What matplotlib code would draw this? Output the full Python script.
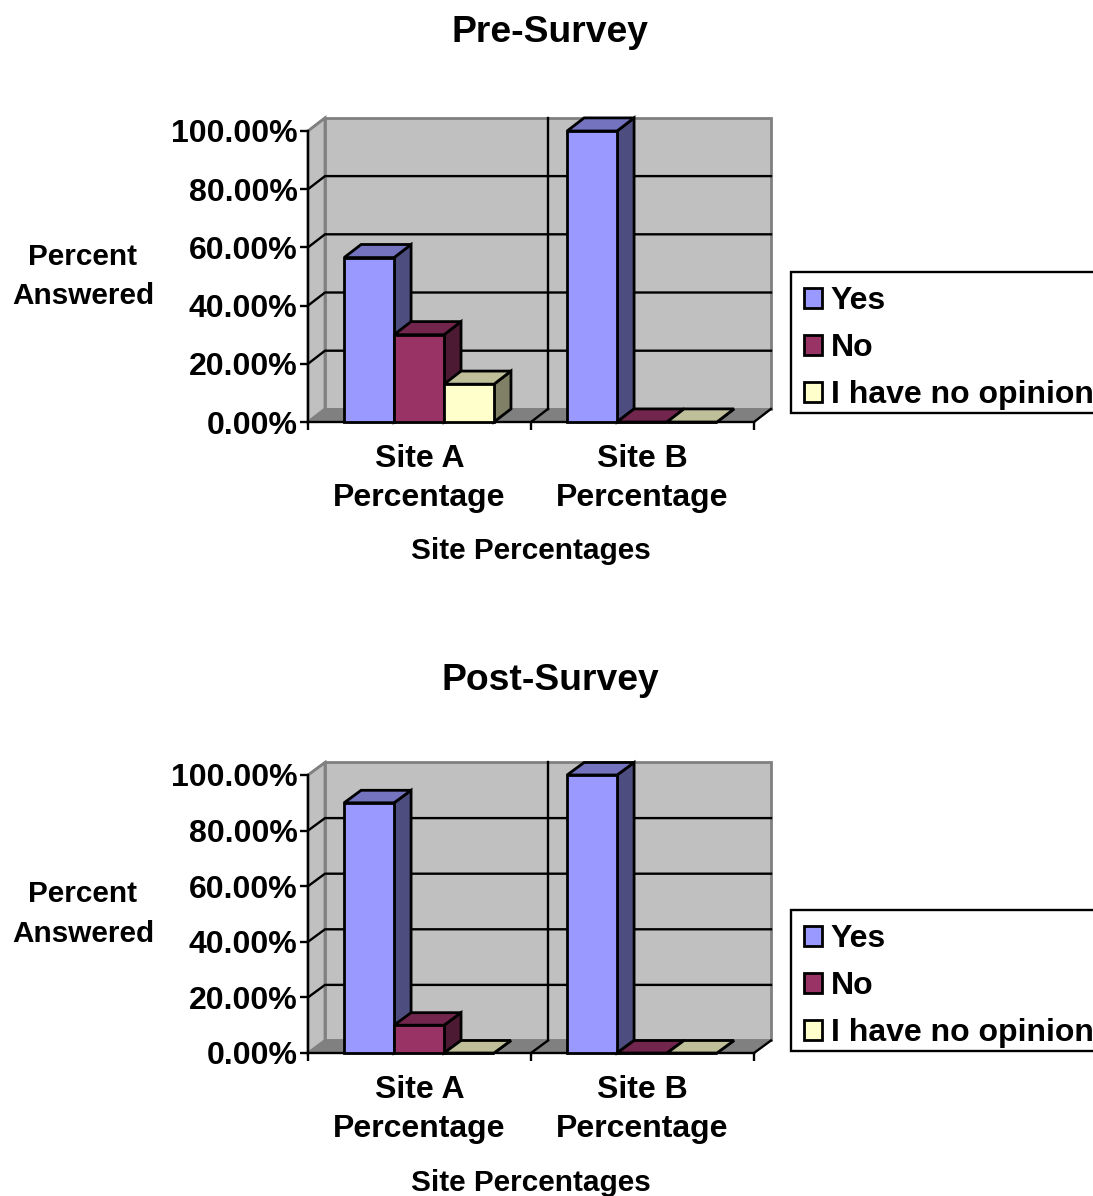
import matplotlib
matplotlib.use("Agg")
import matplotlib.pyplot as plt
from matplotlib.patches import Patch, Polygon, Rectangle

plt.rcParams['font.family'] = ['Liberation Sans', 'DejaVu Sans']
plt.rcParams['font.weight'] = 'bold'

# survey answers, percent
sites = ["Site A\nPercentage", "Site B\nPercentage"]
answers = ["Yes", "No", "I have no opinion"]
pre_yes = [56.5, 100]
pre_no = [30, 0]
pre_none = [13, 0]
post_yes = [90, 100]
post_no = [10, 0]
post_none = [0, 0]
y_ticks = [0, 20, 40, 60, 80, 100]

front_colors = ["#9999FF", "#993366", "#FFFFCC"]
top_colors = ["#7373BF", "#73264D", "#BFBF99"]
side_colors = ["#4D4D80", "#4D1A33", "#808066"]

W, H = 1093, 1196
# depth of the fake 3d box, in data units
DX = 0.0762
DY = 4.5
BAR_W = 0.224
BAR_START = 0.162

fig = plt.figure(figsize=(W / 100, H / 100), dpi=100)


def poly(ax, pts, fc, ec, lw, z):
    ax.add_patch(Polygon(pts, closed=True, facecolor=fc, edgecolor=ec, linewidth=lw,
                         joinstyle='miter', clip_on=False, zorder=z))


def draw_box(ax):
    # side wall, back wall, floor
    poly(ax, [(0, 0), (DX, DY), (DX, 100 + DY), (0, 100)], "#C0C0C0", "#808080", 2.0, 1)
    poly(ax, [(DX, DY), (2 + DX, DY), (2 + DX, 100 + DY), (DX, 100 + DY)], "#C0C0C0", "#808080", 2.0, 1)
    poly(ax, [(0, 0), (2, 0), (2 + DX, DY), (DX, DY)], "#808080", "#808080", 1.0, 1)
    for v in y_ticks[1:-1]:
        ax.plot([0, DX, 2 + DX], [v, v + DY, v + DY], color="black", lw=1.7, zorder=1.5, clip_on=False)
    ax.plot([0, DX], [100, 100 + DY], color="#808080", lw=1.7, zorder=1.5, clip_on=False)
    ax.plot([1 + DX, 1 + DX], [DY, 100 + DY], color="black", lw=1.7, zorder=1.5, clip_on=False)
    for x in [1, 2]:
        ax.plot([x, x + DX], [0, DY], color="black", lw=1.7, zorder=1.5, clip_on=False)


def draw_bar(ax, x, v, i, z):
    poly(ax, [(x + BAR_W, 0), (x + BAR_W + DX, DY), (x + BAR_W + DX, v + DY), (x + BAR_W, v)],
         side_colors[i], "black", 2.0, z)
    poly(ax, [(x, v), (x + BAR_W, v), (x + BAR_W + DX, v + DY), (x + DX, v + DY)],
         top_colors[i], "black", 2.0, z)
    ax.add_patch(Rectangle((x, 0), BAR_W, v, facecolor=front_colors[i], edgecolor="black",
                           linewidth=2.0, clip_on=False, zorder=z))


def draw_chart(title, series, top, bottom, title_y, ylabel_y, xlabel_y, legend_top, legend_bottom):
    ax = fig.add_axes([308 / W, 1 - bottom / H, 446 / W, (bottom - top) / H])
    ax.patch.set_visible(False)
    draw_box(ax)

    for j in range(len(sites)):
        for i, vals in enumerate(series):
            draw_bar(ax, j + BAR_START + i * BAR_W, vals[j], i, 3 + i)

    ax.set_xlim(0, 2)
    ax.set_ylim(0, 100)
    for name in ['top', 'right']:
        ax.spines[name].set_visible(False)
    for name in ['left', 'bottom']:
        ax.spines[name].set_linewidth(1.7)

    ax.set_yticks(y_ticks)
    ax.set_yticklabels(["%.2f%%" % v for v in y_ticks], fontsize=23, fontweight='bold')
    ax.tick_params(axis='y', length=6, width=1.7, pad=1.6)
    ax.set_xticks([0, 1, 2])
    ax.set_xticklabels([])
    ax.tick_params(axis='x', which='major', length=6, width=1.7)
    ax.set_xticks([0.5, 1.5], minor=True)
    ax.set_xticklabels(sites, minor=True, fontsize=23, fontweight='bold', linespacing=1.43)
    ax.tick_params(axis='x', which='minor', length=0, pad=15.5)

    fig.text(550.5 / W, 1 - (title_y + 2) / H, title, fontsize=26.8, fontweight='bold', ha='center', va='center')
    fig.text(83 / W, 1 - ylabel_y / H, "Percent\nAnswered", fontsize=21.4, fontweight='bold',
             ha='center', va='center', linespacing=1.5)
    fig.text(531 / W, 1 - (xlabel_y + 2) / H, "Site Percentages", fontsize=21.4, fontweight='bold',
             ha='center', va='center')

    # legend frame runs off the right edge of the figure
    fig.add_artist(Rectangle((791 / W, 1 - legend_bottom / H), 320 / W, (legend_bottom - legend_top) / H,
                             transform=fig.transFigure, facecolor="white", edgecolor="black", linewidth=1.7))
    handles = [Patch(facecolor=c, edgecolor="black", linewidth=2.0) for c in front_colors]
    fig.legend(handles, answers, loc='upper left', bbox_to_anchor=(791 / W, 1 - (legend_top + 1) / H),
               prop={'size': 23, 'weight': 'bold'}, frameon=False, borderaxespad=0,
               borderpad=0.42, labelspacing=0.53, handlelength=0.56, handleheight=0.56,
               handletextpad=0.27)


draw_chart("Pre-Survey", [pre_yes, pre_no, pre_none], 131, 422, 30, 276.5, 549, 272, 413)
draw_chart("Post-Survey", [post_yes, post_no, post_none], 775, 1053, 678, 914, 1181, 910, 1051)

fig.savefig("out.png", dpi=100)
